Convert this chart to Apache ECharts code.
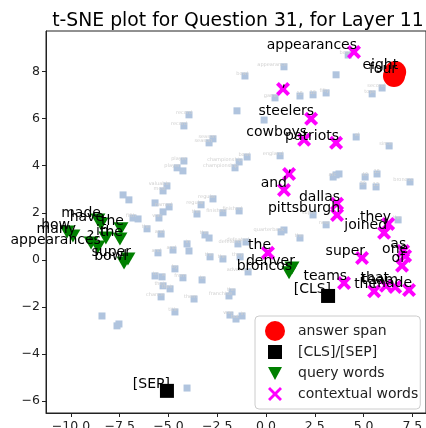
<!DOCTYPE html>
<html><head><meta charset="utf-8">
<script src="https://cdn.jsdelivr.net/npm/echarts@6/dist/echarts.min.js"></script>
<style>html,body{margin:0;padding:0;background:#fff}#c{width:426px;height:428px}</style>
</head><body><div id="c"></div>
<script>
const titleText = 't-SNE plot for Question 31, for Layer 11';
const xTicks = [-10, -7.5, -5, -2.5, 0, 2.5, 5, 7.5];
const yTicks = [-6, -4, -2, 0, 2, 4, 6, 8];

const answerWords = ['eight', 'four'];
const answerX = [6.62, 6.56];
const answerY = [7.98, 7.81];

const specialWords = ['[CLS]', '[SEP]'];
const specialX = [3.18, -5.08];
const specialY = [-1.53, -5.56];

const queryWords = ['how', 'many', 'appearances', 'have', 'the', 'made', 'in', 'the', 'super', 'bowl', '?', 'denver', 'broncos'];
const queryX = [-10.2, -9.90, -8.62, -8.46, -7.44, -8.62, -8.21, -7.49, -7.08, -7.28, -8.97, 1.33, 1.18];
const queryY = [1.19, 1.02, 0.55, 1.53, 1.32, 1.70, 0.93, 0.89, 0.04, -0.13, 0.72, -0.34, -0.55];

const contextWords = ['appearances', ',', 'steelers', 'cowboys', 'patriots', ',', 'and', 'dallas', 'pittsburgh', 'they', 'joined', 'the', 'teams', 'super', 'that', 'the', 'as', 'one', 'of', 'team', 'made'];
const contextX = [4.51, 0.87, 2.31, 1.95, 3.59, 1.18, 0.92, 3.64, 3.64, 6.26, 6.05, 0.10, 4.00, 4.92, 6.15, 5.54, 7.03, 7.13, 6.97, 6.62, 7.33];
const contextY = [8.83, 7.26, 5.99, 5.10, 4.97, 3.65, 2.97, 2.38, 1.91, 1.53, 1.15, 0.30, -0.98, 0.08, -1.10, -1.33, 0.38, 0.17, -0.25, -1.15, -1.28];

const otherWords = ['record','record','season','season','','bowl','appearance','','bowl','game','15','18','fifty','tops','second','','al','since','england','bowl','championship','championship','player','player','','valuable','most','','','','named','','was','regular','regular','the','finished','finished','fifth','','the','and','the','','defeated','defeated','in','','and','and','the','the','they','advanced','by','from','a','to','to','their','their','chance','them','franchise','the','title','','','','was','but','in','','afc','','','40','15','30','12','broncos','super','new','quarterback','','the','the'];
const otherX = [-3.95,-4.21,-2.72,-2.92,-1.49,-1.08,0.92,3.59,4.21,0.46,1.74,2.41,3.08,5.44,5.95,-0.10,4.62,6.31,0.72,-0.97,-1.38,-1.59,-4.21,-4.56,-4.26,-5.08,-5.28,-7.33,-7.03,-5.69,-4.97,-5.28,-5.49,-2.72,-3.33,-3.54,-2.21,-1.38,-6.82,-6.56,-6.10,-5.38,-3.13,-2.92,-1.44,-1.03,-4.05,-3.95,-4.77,-5.54,-2.87,-2.21,-1.33,-0.92,-4.67,-4.26,-5.33,-5.69,-3.28,-5.28,-4.92,-5.38,-3.69,-1.90,-1.74,-4.67,-8.41,-7.64,-7.54,-1.85,-1.54,-1.23,-4.05,3.44,3.59,3.74,5.08,5.69,4.97,5.64,7.38,2.41,3.08,0.77,0.92,1.74,6.77];
const otherY = [6.16,5.69,5.14,4.97,6.33,7.81,8.20,7.86,8.70,6.88,6.96,7.01,7.09,7.05,7.30,5.94,5.22,4.84,4.42,4.37,4.16,3.91,4.20,3.91,3.78,3.14,2.93,2.76,2.55,2.42,2.25,2.04,1.78,2.59,2.34,1.95,2.00,2.08,1.78,1.74,1.32,1.10,1.06,0.93,0.68,0.76,0.68,0.38,0.42,0.30,0.13,0.04,0.13,-0.51,-0.38,-0.76,-0.72,-0.68,-0.85,-1.10,-1.23,-1.57,-1.66,-1.53,-1.36,-2.21,-2.38,-2.80,-2.72,-2.34,-2.51,-2.38,-5.44,3.52,3.61,3.65,3.52,3.65,3.14,3.10,3.31,1.91,1.49,1.19,1.27,0.93,1.70];

function pts(words, xs, ys) {
  return words.map((w, i) => ({ name: w, value: [xs[i], ys[i]] }));
}
const XPATH = 'path://M0,2L2,0L5,3L8,0L10,2L7,5L10,8L8,10L5,7L2,10L0,8L3,5Z';
const font = 'DejaVu Sans';
const annot = { show: true, formatter: p => p.name, position: 'inside', align: 'right', verticalAlign: 'bottom', offset: [3, 0], color: '#000', fontFamily: font, fontSize: 14 };
const fmt = v => (v < 0 ? '\u2212' : '') + Math.abs(v);
const fmtX = v => (v < 0 ? '\u2212' : '') + Math.abs(v).toFixed(1);

const chart = echarts.init(document.getElementById('c'), null, { renderer: 'canvas' });
chart.setOption({
  animation: false,
  title: { text: titleText, left: 233, top: 7, textAlign: 'center', textStyle: { fontFamily: font, fontSize: 18.8, fontWeight: 'normal', color: '#000' } },
  grid: { left: 46, right: 0, top: 31, bottom: 15, show: true, borderColor: '#222', borderWidth: 1, backgroundColor: 'transparent', outerBoundsMode: 'none', containLabel: false },
  xAxis: {
    type: 'value', min: -11.28, max: 8.2,
    axisLine: { show: true, onZero: false, lineStyle: { color: '#222' } },
    axisTick: { show: true, length: 4, customValues: xTicks, lineStyle: { color: '#222' } },
    axisLabel: { customValues: xTicks, formatter: fmtX, fontFamily: font, fontSize: 12.5, color: '#222', margin: 7 },
    splitLine: { show: false }
  },
  yAxis: {
    type: 'value', min: -6.5, max: 9.72,
    axisLine: { show: true, onZero: false, lineStyle: { color: '#222' } },
    axisTick: { show: true, length: 4, customValues: yTicks, lineStyle: { color: '#222' } },
    axisLabel: { customValues: yTicks, formatter: v => fmt(v), fontFamily: font, fontSize: 12.5, color: '#222', margin: 6 },
    splitLine: { show: false }
  },
  legend: {
    orient: 'vertical', left: 255, top: 316, padding: [5, 2, 5, 10],
    backgroundColor: 'rgba(255,255,255,0.85)', borderColor: '#ccc', borderWidth: 1, borderRadius: 4,
    itemWidth: 36, itemHeight: 20, itemGap: 1,
    textStyle: { fontFamily: font, fontSize: 14, color: '#222' },
    itemStyle: { opacity: 1 },
    data: [
      { name: 'answer span', icon: 'circle' },
      { name: '[CLS]/[SEP]', icon: 'path://M0,0M20,20M3,3L17,3L17,17L3,17Z' },
      { name: 'query words', icon: 'path://M0,0M20,20M3,4L17,4L10,17Z' },
      { name: 'contextual words', icon: 'path://M0,0M20,20M3,5L5,3L10,8L15,3L17,5L12,10L17,15L15,17L10,12L5,17L3,15L8,10Z' }
    ]
  },
  series: [
    { type: 'scatter', name: 'other', data: pts(otherWords, otherX, otherY), symbol: 'rect', symbolSize: 7,
      itemStyle: { color: '#b0c4de', opacity: 1 }, label: Object.assign({}, annot, { fontSize: 5, color: '#d0d0d0' }), z: 1 },
    { type: 'scatter', name: 'answer span', data: pts(answerWords, answerX, answerY), symbol: 'circle', symbolSize: 22,
      itemStyle: { color: '#ff0000', opacity: 1 }, label: annot, z: 2 },
    { type: 'scatter', name: '[CLS]/[SEP]', data: pts(specialWords, specialX, specialY), symbol: 'rect', symbolSize: 14,
      itemStyle: { color: '#000', opacity: 1 }, label: annot, z: 2 },
    { type: 'scatter', name: 'query words', data: pts(queryWords, queryX, queryY), symbol: 'triangle', symbolRotate: 180, symbolSize: [15, 13],
      itemStyle: { color: '#008000', opacity: 1 }, label: annot, z: 2 },
    { type: 'scatter', name: 'contextual words', data: pts(contextWords, contextX, contextY), symbol: XPATH, symbolSize: 14,
      itemStyle: { color: '#ff00ff', opacity: 1 }, label: annot, z: 2 }
  ]
});
</script></body></html>
